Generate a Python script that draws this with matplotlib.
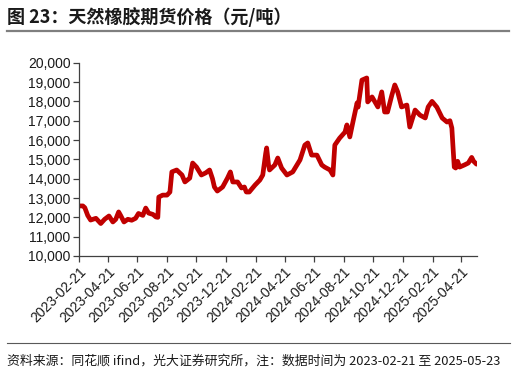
import matplotlib
matplotlib.use('Agg')
import matplotlib.pyplot as plt
import matplotlib.dates as mdates
import matplotlib.ticker as mticker
from matplotlib.lines import Line2D
import pandas as pd

# rubber futures close (yuan/ton)
dates = ['2023-02-21', '2023-03-01', '2023-03-05', '2023-03-11', '2023-03-17',
         '2023-03-28', '2023-04-07', '2023-04-15', '2023-04-24', '2023-05-02',
         '2023-05-08', '2023-05-14', '2023-05-18', '2023-05-25', '2023-06-02',
         '2023-06-10', '2023-06-18', '2023-06-24', '2023-07-03', '2023-07-09',
         '2023-07-15', '2023-07-24', '2023-07-30', '2023-08-03', '2023-08-05',
         '2023-08-13', '2023-08-22', '2023-08-28', '2023-09-01', '2023-09-11',
         '2023-09-22', '2023-09-28', '2023-10-08', '2023-10-14', '2023-10-22',
         '2023-11-01', '2023-11-10', '2023-11-18', '2023-11-24', '2023-11-28',
         '2023-12-04', '2023-12-15', '2023-12-25', '2023-12-31', '2024-01-05',
         '2024-01-15', '2024-01-23', '2024-01-29', '2024-02-02', '2024-02-08',
         '2024-02-20', '2024-03-01', '2024-03-07', '2024-03-13', '2024-03-15',
         '2024-03-19', '2024-03-21', '2024-04-01', '2024-04-07', '2024-04-15',
         '2024-04-26', '2024-05-08', '2024-05-23', '2024-06-02', '2024-06-08',
         '2024-06-16', '2024-06-27', '2024-07-07', '2024-07-13', '2024-07-24',
         '2024-07-30', '2024-08-03', '2024-08-13', '2024-08-24', '2024-08-28',
         '2024-09-03', '2024-09-09', '2024-09-18', '2024-09-20', '2024-09-28',
         '2024-10-08', '2024-10-10', '2024-10-19', '2024-10-25', '2024-10-31',
         '2024-11-08', '2024-11-14', '2024-11-20', '2024-11-29', '2024-12-05',
         '2024-12-11', '2024-12-19', '2024-12-30', '2025-01-05', '2025-01-16',
         '2025-01-26', '2025-02-06', '2025-02-12', '2025-02-20', '2025-03-02',
         '2025-03-13', '2025-03-23', '2025-03-29', '2025-04-02', '2025-04-04',
         '2025-04-07', '2025-04-10', '2025-04-14', '2025-04-18', '2025-04-28',
         '2025-05-06', '2025-05-13', '2025-05-17', '2025-05-23']
prices = [12590, 12590, 12500, 12100, 11860,
          11950, 11680, 11900, 12070, 11760,
          11900, 12280, 12100, 11760, 11900,
          11850, 11950, 12200, 12100, 12480,
          12220, 12150, 12020, 12000, 13050,
          13150, 13150, 13310, 14350, 14450,
          14190, 13830, 14030, 14810, 14600,
          14190, 14300, 14450, 14000, 13570,
          13360, 13570, 14030, 14350, 13830,
          13830, 13520, 13570, 13310, 13310,
          13670, 13930, 14190, 15300, 15590,
          14700, 14450, 14710, 15070, 14550,
          14190, 14350, 14970, 15740, 15850,
          15220, 15220, 14710, 14600, 14450,
          14190, 15740, 16100, 16410, 16780,
          16160, 16880, 17920, 17700, 19100,
          19210, 17970, 18230, 17970, 17710,
          18490, 17450, 17450, 18330, 18850,
          18490, 17710, 17810, 16670, 17550,
          17290, 17140, 17710, 18000, 17700,
          17140, 16930, 17000, 16620, 15800,
          14600, 14550, 14900, 14600, 14710,
          14810, 15100, 14900, 14750]

tick_dates = ['2023-02-21', '2023-04-21', '2023-06-21', '2023-08-21', '2023-10-21',
              '2023-12-21', '2024-02-21', '2024-04-21', '2024-06-21', '2024-08-21',
              '2024-10-21', '2024-12-21', '2025-02-21', '2025-04-21']

title = '图 23：天然橡胶期货价格（元/吨）'
source = '资料来源：同花顺 ifind，光大证券研究所，注：数据时间为 2023-02-21 至 2025-05-23'

cjk = ['Noto Sans CJK SC', 'DejaVu Sans']
plt.rcParams['font.family'] = ['Liberation Sans', 'DejaVu Sans']

W, H = 516, 375
fig = plt.figure(figsize=(W / 100, H / 100), dpi=100)
ax = fig.add_axes([79 / W, 1 - 256 / H, (477 - 79) / W, (256 - 62.7) / H])

x = pd.to_datetime(dates)
ax.plot(x, prices, color='#C00000', lw=3.4, solid_joinstyle='round',
        solid_capstyle='round')

ax.set_ylim(10000, 20000)
ax.yaxis.set_major_locator(mticker.MultipleLocator(1000))
ax.yaxis.set_major_formatter(mticker.StrMethodFormatter('{x:,.0f}'))
ax.set_xlim(pd.Timestamp('2023-02-21'), pd.Timestamp('2025-05-24'))
ax.set_xticks(pd.to_datetime(tick_dates))
ax.xaxis.set_major_formatter(mdates.DateFormatter('%Y-%m-%d'))
for lab in ax.get_xticklabels():
    lab.set_rotation(45)
    lab.set_ha('right')
    lab.set_rotation_mode('anchor')

for s in ['top', 'right']:
    ax.spines[s].set_visible(False)
for s in ['left', 'bottom']:
    ax.spines[s].set_color('#404040')
    ax.spines[s].set_linewidth(0.9)
ax.tick_params(axis='both', direction='out', length=4, width=0.9,
               color='#404040', labelsize=10, labelcolor='#1a1a1a', pad=2)

# header / footer
fig.text(7 / W, 1 - 17 / H, title, fontsize=13, fontweight='bold',
         family=cjk, va='center', ha='left', color='#1a1a1a')
fig.add_artist(Line2D([7 / W, 509 / W], [1 - 31 / H, 1 - 31 / H],
                      color='#7f7f7f', lw=1.6, transform=fig.transFigure))
fig.add_artist(Line2D([7 / W, 510 / W], [1 - 343 / H, 1 - 343 / H],
                      color='#595959', lw=0.8, transform=fig.transFigure))
fig.text(7 / W, 1 - 361 / H, source, fontsize=9.3, family=cjk,
         va='center', ha='left', color='#1a1a1a')

fig.savefig('out.png', dpi=100)
